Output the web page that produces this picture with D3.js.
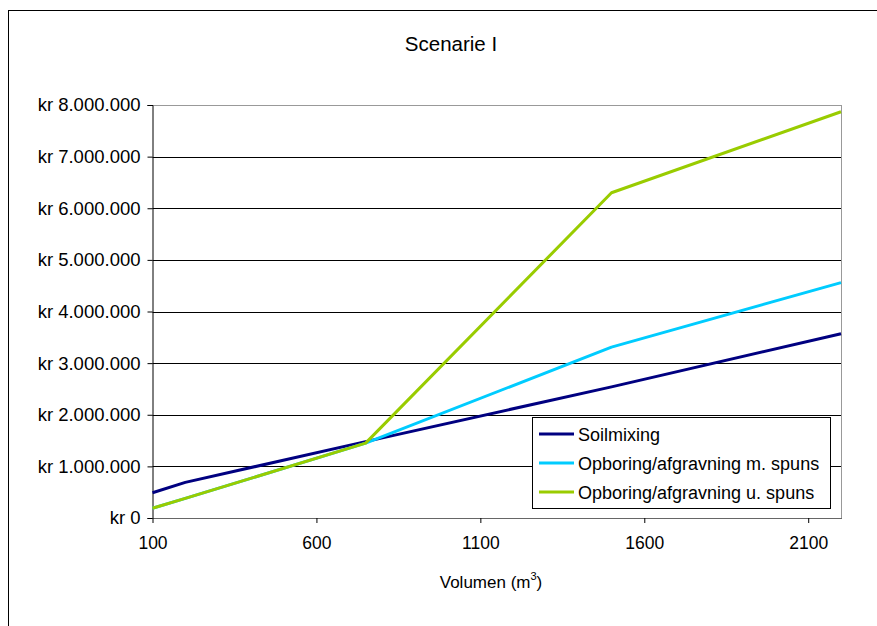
<!DOCTYPE html>
<html>
<head>
<meta charset="utf-8">
<script src="https://cdn.jsdelivr.net/npm/d3@7"></script>
<style>
  body { margin: 0; background: #fff; }
  svg { display: block; }
  text { font-family: "Liberation Sans", Arial, sans-serif; fill: #000; }
</style>
</head>
<body>
<svg id="chart" width="877" height="626"></svg>
<script>
const title = "Scenarie I";
const xValues = [100, 200, 750, 1500, 2200];
const seriesNames = ["Soilmixing", "Opboring/afgravning m. spuns", "Opboring/afgravning u. spuns"];
const soilmixing = [490000, 690000, 1480000, 2540000, 3570000];
const medSpuns = [190000, 380000, 1450000, 3310000, 4560000];
const udenSpuns = [190000, 380000, 1450000, 6300000, 7870000];
const seriesColors = ["#000080", "#00CCFF", "#99CC00"];
const xTicks = [100, 600, 1100, 1600, 2100];
const yTicks = [0, 1000000, 2000000, 3000000, 4000000, 5000000, 6000000, 7000000, 8000000];

const svg = d3.select("#chart");
const W = 877, H = 626;
const plot = { left: 152.5, right: 841, top: 105, bottom: 518 };

// outer frame
svg.append("rect").attr("x", 8.5).attr("y", 10.5).attr("width", W + 10).attr("height", H + 10)
  .attr("fill", "none").attr("stroke", "#000").attr("stroke-width", 1);

const x = d3.scaleLinear().domain([100, 2200]).range([plot.left, plot.right]);
const y = d3.scaleLinear().domain([0, 8000000]).range([plot.bottom, plot.top]);

// title
svg.append("text").attr("x", 451).attr("y", 51).attr("text-anchor", "middle")
  .style("font-size", "20.5px").text(title);

// gridlines
svg.append("g").selectAll("line").data(yTicks.filter(d => d > 0)).join("line")
  .attr("x1", plot.left).attr("x2", plot.right)
  .attr("y1", d => Math.round(y(d)) + 0.5).attr("y2", d => Math.round(y(d)) + 0.5)
  .attr("stroke", d => d === 8000000 ? "#999" : "#000").attr("stroke-width", 1);

// right border
svg.append("line").attr("x1", plot.right + 0.5).attr("x2", plot.right + 0.5)
  .attr("y1", plot.top).attr("y2", plot.bottom).attr("stroke", "#999");

const fmt = v => "kr " + (v === 0 ? "0" : d3.format(",")(v).replace(/,/g, "."));

// y axis
const yAxis = d3.axisLeft(y).tickValues(yTicks).tickSize(5).tickPadding(7).tickFormat(fmt);
const gy = svg.append("g").attr("transform", `translate(${plot.left},0)`).call(yAxis);
gy.select(".domain").attr("stroke", "#000");
gy.selectAll(".tick line").attr("stroke", "#000");
gy.selectAll("text").style("font-size", "18.5px").attr("fill", "#000");

// x axis
const xAxis = d3.axisBottom(x).tickValues(xTicks).tickSize(5).tickPadding(14).tickFormat(d3.format("d"));
const gx = svg.append("g").attr("transform", `translate(0,${plot.bottom})`).call(xAxis);
gx.select(".domain").attr("stroke", "#666").attr("d", `M${plot.left},0.5H${plot.right + 1}`);
gx.selectAll(".tick line").attr("stroke", "#000");
gx.selectAll("text").style("font-size", "17.5px").attr("fill", "#000");

// x title
const xt = svg.append("text").attr("x", 491).attr("y", 588).attr("text-anchor", "middle").style("font-size", "17px");
xt.append("tspan").text("Volumen (m");
xt.append("tspan").attr("dy", -8).style("font-size", "11px").text("3");
xt.append("tspan").attr("dy", 8).text(")");

// lines (Excel series order: later series on top)
const allSeries = [soilmixing, medSpuns, udenSpuns];
const line = d3.line().x((d, i) => x(xValues[i])).y(d => y(d));
[0, 1, 2].forEach(k => {
  svg.append("path").datum(allSeries[k]).attr("d", line)
    .attr("fill", "none").attr("stroke", seriesColors[k]).attr("stroke-width", 3)
    .attr("stroke-linejoin", "round");
});

// legend
const lg = svg.append("g");
lg.append("rect").attr("x", 532.5).attr("y", 417.5).attr("width", 298).attr("height", 91)
  .attr("fill", "#fff").attr("stroke", "#000").attr("stroke-width", 1);
seriesNames.forEach((n, i) => {
  const yy = 434 + i * 29;
  lg.append("line").attr("x1", 539).attr("x2", 574).attr("y1", yy).attr("y2", yy)
    .attr("stroke", seriesColors[i]).attr("stroke-width", 3);
  lg.append("text").attr("x", 578).attr("y", yy + 6.5).style("font-size", "18px").text(n);
});
</script>
</body>
</html>
